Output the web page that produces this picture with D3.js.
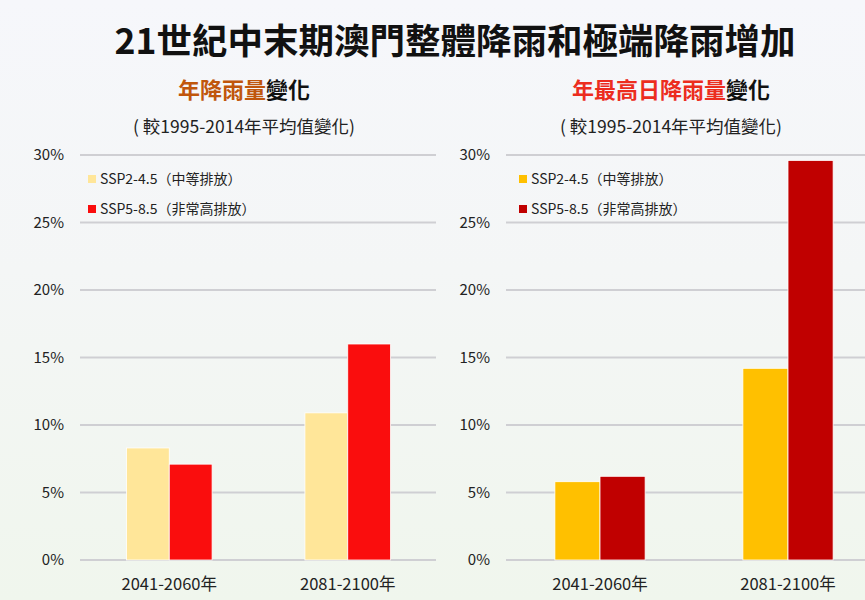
<!DOCTYPE html>
<html>
<head>
<meta charset="utf-8">
<script src="https://cdn.jsdelivr.net/npm/d3@7"></script>
<style>
  html, body { margin: 0; padding: 0; }
  body { width: 865px; height: 600px; overflow: hidden; }
  svg text { font-family: "Noto Sans CJK TC", "Noto Sans", sans-serif; }
</style>
</head>
<body>
<svg id="chart" width="865" height="600"></svg>
<script>
// ---- data ----
const periods = ["2041-2060年", "2081-2100年"];
const scenarios = ["SSP2-4.5（中等排放）", "SSP5-8.5（非常高排放）"];
const annualRain = [[8.3, 10.9], [7.1, 16.0]];        // [scenario][period]
const maxDailyRain = [[5.8, 14.2], [6.2, 29.6]];      // [scenario][period]
const yTicks = [0, 5, 10, 15, 20, 25, 30];
const mainTitle = "21世紀中末期澳門整體降雨和極端降雨增加";
const leftTitleColored = "年降雨量";
const rightTitleColored = "年最高日降雨量";
const titleSuffix = "變化";
const subTitle = "( 較1995-2014年平均值變化)";

const svg = d3.select("#chart");

// background gradient
const defs = svg.append("defs");
const grad = defs.append("linearGradient").attr("id", "bg").attr("x1", 0).attr("y1", 0).attr("x2", 0).attr("y2", 1);
grad.append("stop").attr("offset", "0%").attr("stop-color", "#f6f7fb");
grad.append("stop").attr("offset", "45%").attr("stop-color", "#f4f6f6");
grad.append("stop").attr("offset", "100%").attr("stop-color", "#f0f6ed");
svg.append("rect").attr("width", 865).attr("height", 600).attr("fill", "url(#bg)");

svg.append("text")
  .attr("x", 455).attr("y", 54)
  .attr("text-anchor", "middle")
  .attr("font-size", 35.5).attr("font-weight", 700)
  .attr("fill", "#111")
  .text(mainTitle);

const y = d3.scaleLinear().domain([0, 30]).range([560, 155]);

function panel(opts) {
  const g = svg.append("g");
  const x0 = d3.scaleBand().domain(periods).range([opts.x0, opts.x1]).padding(0);
  const bw = x0.bandwidth();
  const x1 = d3.scaleBand().domain(scenarios).range([bw * 0.26, bw * 0.74]).padding(0);

  // gridlines
  g.append("g").selectAll("line").data(yTicks).join("line")
    .attr("x1", opts.x0).attr("x2", Math.min(opts.x1, opts.gridEnd))
    .attr("y1", d => y(d)).attr("y2", d => y(d))
    .attr("stroke", "#cfcfd3").attr("stroke-width", 2);

  // y labels
  g.append("g").selectAll("text").data(yTicks).join("text")
    .attr("x", opts.labelX).attr("y", d => y(d) + 5)
    .attr("text-anchor", "end")
    .attr("font-size", 15).attr("fill", "#222")
    .text(d => d + "%");

  // bars
  scenarios.forEach((s, si) => {
    g.append("g").selectAll("rect").data(periods).join("rect")
      .attr("x", p => x0(p) + x1(s))
      .attr("width", x1.bandwidth())
      .attr("y", (p, pi) => y(opts.values[si][pi]))
      .attr("height", (p, pi) => y(0) - y(opts.values[si][pi]))
      .attr("fill", opts.colors[si])
      .attr("stroke", "#ffffff").attr("stroke-width", 0.8);
  });

  // x labels
  g.append("g").selectAll("text").data(periods).join("text")
    .attr("x", p => x0(p) + bw / 2).attr("y", 590)
    .attr("text-anchor", "middle")
    .attr("font-size", 16.5).attr("fill", "#222")
    .text(p => p);

  // legend
  scenarios.forEach((s, si) => {
    const ly = 179 + si * 30;
    g.append("rect").attr("x", opts.legX).attr("y", ly - 4).attr("width", 8).attr("height", 8)
      .attr("fill", opts.colors[si]);
    g.append("text").attr("x", opts.legX + 12).attr("y", ly + 5)
      .attr("font-size", 14).attr("fill", "#222")
      .text(s);
  });

  // titles
  const t = g.append("text").attr("x", opts.titleX).attr("y", 98)
    .attr("text-anchor", "middle").attr("font-size", 22).attr("font-weight", 700);
  t.append("tspan").attr("fill", opts.titleColor).text(opts.titleColored);
  t.append("tspan").attr("fill", "#111").text(titleSuffix);

  g.append("text").attr("x", opts.titleX).attr("y", 133)
    .attr("text-anchor", "middle").attr("font-size", 17.5).attr("fill", "#222")
    .text(subTitle);
}

panel({
  id: "L", x0: 80, x1: 437, gridEnd: 436, labelX: 64,
  values: annualRain, colors: ["#FFE699", "#FA0D0D"],
  legX: 88, titleX: 244, titleColored: leftTitleColored, titleColor: "#c0560c"
});
panel({
  id: "R", x0: 506, x1: 882, gridEnd: 865, labelX: 490,
  values: maxDailyRain, colors: ["#FFC000", "#C00000"],
  legX: 519, titleX: 671, titleColored: rightTitleColored, titleColor: "#ec2d1e"
});
</script>
</body>
</html>
